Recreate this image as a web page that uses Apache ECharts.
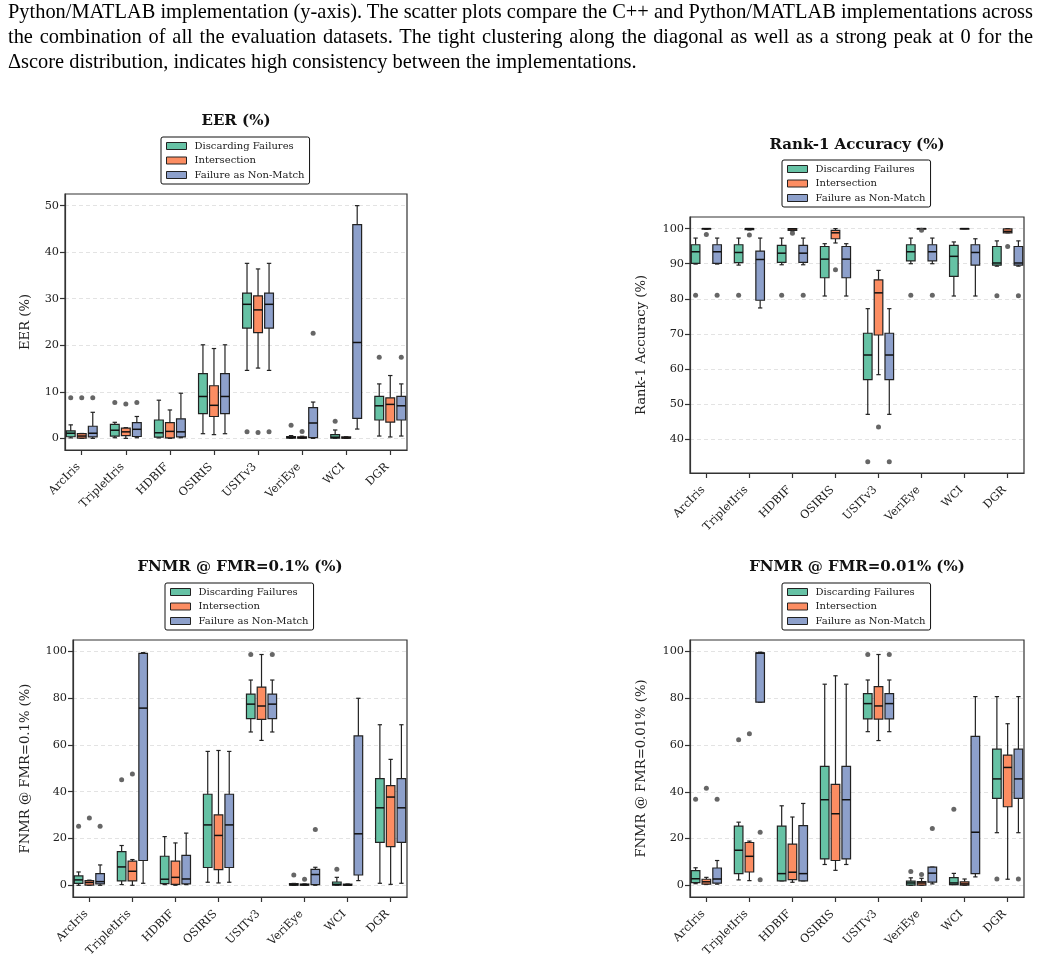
<!DOCTYPE html>
<html><head><meta charset="utf-8">
<script src="https://cdn.jsdelivr.net/npm/echarts@6/dist/echarts.min.js"></script>
<style>
html,body{margin:0;padding:0;background:#fff;}
#chart{position:absolute;left:0;top:0;width:1041px;height:963px;}
#caption{position:absolute;left:8px;top:-1px;width:1025px;font-family:'Liberation Serif','Times New Roman',serif;font-size:20.4px;line-height:25px;color:#000;z-index:2;}
#caption .j{text-align:justify;text-align-last:justify;white-space:nowrap;}
#caption .l{text-align:left;white-space:nowrap;}
</style></head>
<body>
<div id="chart"></div>
<div id="caption">
<div class="j">Python/MATLAB implementation (y-axis). The scatter plots compare the C++ and Python/MATLAB implementations across</div>
<div class="j">the combination of all the evaluation datasets. The tight clustering along the diagonal as well as a strong peak at 0 for the</div>
<div class="l">Δscore distribution, indicates high consistency between the implementations.</div>
</div>
<script>
// ---------------- DATA ----------------
const categories = ['ArcIris','TripletIris','HDBIF','OSIRIS','USITv3','VeriEye','WCI','DGR'];
const methods = ['Discarding Failures','Intersection','Failure as Non-Match'];

const eerTicks = [0,10,20,30,40,50];
const rankTicks = [40,50,60,70,80,90,100];
const fnmrTicks = [0,20,40,60,80,100];

// box stats per category: [lowerWhisker, q1, median, q3, upperWhisker]
const eerDiscard = [[0.1,0.35,1.1,1.6,2.9],[0.14,0.5,1.75,3.0,3.45],[0.1,0.25,1.2,3.95,8.2],[1.0,5.3,9.0,13.9,20.1],[14.6,23.7,28.8,31.2,37.6],[0.0,0.05,0.2,0.4,0.6],[0.0,0.05,0.25,0.8,1.8],[0.5,3.95,7.0,9.0,11.7]];
const eerInter   = [[0.0,0.05,0.5,1.0,1.05],[0.0,0.6,1.4,2.2,2.3],[0.0,0.1,1.5,3.4,6.1],[0.8,4.7,7.1,11.3,19.3],[15.1,22.7,27.6,30.6,36.4],[0.0,0.02,0.15,0.35,0.45],[0.0,0.02,0.1,0.3,0.35],[0.3,3.5,7.3,8.7,13.5]];
const eerFail    = [[0.0,0.3,1.1,2.6,5.6],[0.14,0.4,1.95,3.4,4.7],[0.14,0.3,1.4,4.2,9.7],[1.0,5.3,9.0,13.9,20.1],[14.6,23.7,28.8,31.2,37.6],[0.0,0.15,3.3,6.6,7.8],[2.0,4.3,20.6,45.9,50.0],[0.5,3.95,7.0,9.0,11.7]];
const eerOutDiscard = [[0,8.7],[1,7.7],[4,1.4],[5,2.8],[6,3.7],[7,17.4]];
const eerOutInter   = [[0,8.75],[1,7.4],[4,1.25],[5,1.5]];
const eerOutFail    = [[0,8.7],[1,7.7],[4,1.4],[5,22.6],[7,17.4]];

const rankDiscard = [[89.9,90.1,93.4,95.4,97.3],[89.6,90.3,93.2,95.4,97.3],[89.7,90.4,93.0,95.2,97.3],[80.8,86.0,91.3,94.9,95.7],[47.1,57.0,64.0,70.2,77.2],[90.0,90.8,93.4,95.4,97.3],[80.8,86.4,92.1,95.2,96.2],[89.3,89.6,90.2,94.9,96.5]];
const rankInter   = [[99.8,99.9,100,100,100],[99.6,99.7,100,100,100],[99.3,99.5,99.9,100,100],[95.9,97.1,98.8,99.5,100],[58.4,69.7,81.7,85.4,88.1],[99.8,99.9,100,100,100],[100,100,100,100,100],[98.8,98.8,99.2,99.9,100]];
const rankFail    = [[89.9,90.1,93.4,95.4,97.3],[77.4,79.6,91.2,93.6,97.3],[89.7,90.4,93.0,95.2,97.3],[80.8,86.0,91.3,94.9,95.7],[47.1,57.0,64.0,70.2,77.2],[90.0,90.8,93.4,95.4,97.3],[80.8,89.6,93.2,95.4,97.1],[89.3,89.6,90.2,94.9,96.5]];
const rankOutDiscard = [[0,81.0],[1,81.0],[2,81.0],[4,33.6],[5,81.0],[7,80.9]];
const rankOutInter   = [[0,98.3],[1,98.2],[2,98.7],[3,88.3],[4,43.5],[5,99.5],[7,94.9]];
const rankOutFail    = [[0,81.0],[2,81.0],[4,33.6],[5,81.0],[7,80.9]];

const f1Discard = [[0.0,0.8,2.3,4.0,5.7],[0.3,1.85,7.85,14.4,17.0],[0.3,0.7,2.6,12.4,20.8],[1.3,7.6,25.8,38.9,57.2],[65.5,71.2,77.4,81.7,87.7],[0.0,0.05,0.2,0.7,0.8],[0.0,0.05,0.4,1.4,3.4],[0.86,18.3,33.1,45.6,68.6]];
const f1Inter   = [[0.0,0.1,1.2,2.0,2.2],[0.0,1.85,6.0,10.3,11.0],[0.0,0.4,3.4,10.3,18.1],[1.0,6.7,21.3,30.1,57.6],[61.9,70.9,76.6,84.7,98.6],[0.0,0.05,0.2,0.55,0.6],[0.0,0.02,0.1,0.5,0.55],[0.4,16.5,37.7,42.6,53.8]];
const f1Fail    = [[0.0,0.57,1.57,5.0,8.7],[0.86,10.6,75.7,99.1,99.4],[0.3,0.6,2.7,12.8,22.3],[1.3,7.6,25.8,38.9,57.2],[65.5,71.2,77.4,81.7,87.7],[0.0,0.3,4.6,6.8,7.7],[2.0,4.4,22.0,63.8,79.9],[0.86,18.3,33.1,45.6,68.6]];
const f1OutDiscard = [[0,25.2],[1,45.1],[4,98.6],[5,4.4],[6,6.85]];
const f1OutInter   = [[0,28.7],[1,47.6],[5,2.6]];
const f1OutFail    = [[0,25.2],[4,98.6],[5,23.8]];

const f2Discard = [[0.7,1.14,2.8,6.3,7.5],[2.3,5.0,15.0,25.3,27.0],[1.9,1.9,5.0,25.3,34.0],[8.9,11.3,36.6,50.9,86.0],[65.7,71.2,77.7,82.0,87.8],[0.0,0.1,1.0,1.8,3.2],[0.3,0.3,1.0,3.3,5.1],[22.5,37.2,45.5,58.2,80.7]];
const f2Inter   = [[0.4,0.5,1.5,2.6,3.4],[2.0,5.7,12.4,18.3,18.9],[1.3,2.4,5.6,17.6,29.2],[6.4,10.6,30.6,43.2,89.6],[61.9,71.1,76.7,85.0,98.7],[0.0,0.1,1.0,1.6,3.0],[0.0,0.1,0.6,1.5,2.7],[2.6,33.6,50.4,55.7,69.1]];
const f2Fail    = [[0.5,0.9,2.7,7.4,10.6],[78.3,78.3,99.3,99.4,99.7],[1.9,1.9,5.0,25.5,35.0],[8.9,11.3,36.6,50.9,86.0],[65.7,71.2,77.7,82.0,87.8],[0.6,1.4,5.2,7.8,7.8],[3.6,5.0,22.7,63.7,80.7],[22.5,37.2,45.5,58.2,80.7]];
const f2OutDiscard = [[0,36.8],[1,62.2],[4,98.7],[5,5.9],[6,32.5],[7,2.7]];
const f2OutInter   = [[0,41.5],[1,64.8],[5,4.6]];
const f2OutFail    = [[0,36.8],[1,22.7],[1,2.4],[4,98.7],[5,24.3],[7,2.7]];

// ---------------- LAYOUT / STYLE ----------------
const colors = ['#66c2a5','#fc8d62','#8da0cb'];
const offsets = [-0.25, 0, 0.25];
const FONT = "'DejaVu Serif', serif";

const panels = [
  {title:'EER (%)', yName:'EER (%)', min:-2.5, max:52.5, split:5, ticks:eerTicks,
   stats:[eerDiscard,eerInter,eerFail], out:[eerOutDiscard,eerOutInter,eerOutFail],
   grid:{left:65,top:194,width:342,height:256}, legend:{left:161,top:137}, tpos:[236,121], nameGap:33},
  {title:'Rank-1 Accuracy (%)', yName:'Rank-1 Accuracy (%)', min:30.4, max:103.3, split:7, ticks:rankTicks,
   stats:[rankDiscard,rankInter,rankFail], out:[rankOutDiscard,rankOutInter,rankOutFail],
   grid:{left:690,top:217,width:334,height:256}, legend:{left:782,top:160}, tpos:[857,145], nameGap:42},
  {title:'FNMR @ FMR=0.1% (%)', yName:'FNMR @ FMR=0.1% (%)', min:-5, max:104.8, split:5, ticks:fnmrTicks,
   stats:[f1Discard,f1Inter,f1Fail], out:[f1OutDiscard,f1OutInter,f1OutFail],
   grid:{left:73,top:640,width:334,height:257}, legend:{left:165,top:583}, tpos:[240,567], nameGap:41},
  {title:'FNMR @ FMR=0.01% (%)', yName:'FNMR @ FMR=0.01% (%)', min:-5, max:104.9, split:5, ticks:fnmrTicks,
   stats:[f2Discard,f2Inter,f2Fail], out:[f2OutDiscard,f2OutInter,f2OutFail],
   grid:{left:690,top:640,width:334,height:257}, legend:{left:782,top:583}, tpos:[857,567], nameGap:42}
];

function renderBox(params, api) {
  const x = api.value(0);
  const lo = api.value(1), q1 = api.value(2), med = api.value(3), q3 = api.value(4), hi = api.value(5);
  const c = api.coord([x, med]);
  const hw = api.size([0.1, 0])[0];
  const cw = api.size([0.05, 0])[0];
  const yLo = api.coord([x, lo])[1], yQ1 = api.coord([x, q1])[1], yQ3 = api.coord([x, q3])[1], yHi = api.coord([x, hi])[1];
  const cx = c[0];
  const ls = {stroke:'#222', lineWidth:1.2};
  return {type:'group', children:[
    {type:'line', shape:{x1:cx,y1:yQ1,x2:cx,y2:yLo}, style:ls},
    {type:'line', shape:{x1:cx,y1:yQ3,x2:cx,y2:yHi}, style:ls},
    {type:'line', shape:{x1:cx-cw,y1:yLo,x2:cx+cw,y2:yLo}, style:ls},
    {type:'line', shape:{x1:cx-cw,y1:yHi,x2:cx+cw,y2:yHi}, style:ls},
    {type:'rect', shape:{x:cx-hw,y:yQ3,width:2*hw,height:Math.max(yQ1-yQ3,0.5)}, style:{fill:api.visual('color'), stroke:'#222', lineWidth:1.2}},
    {type:'line', shape:{x1:cx-hw,y1:c[1],x2:cx+hw,y2:c[1]}, style:{stroke:'#111', lineWidth:1.5}}
  ]};
}

const catIdx = categories.map((_, i) => i);
const option = {animation:false, backgroundColor:'#fff', title:[], legend:[], grid:[], xAxis:[], yAxis:[], series:[]};

panels.forEach((p, i) => {
  option.title.push({text:p.title, left:p.tpos[0], top:p.tpos[1], textAlign:'center', textVerticalAlign:'middle', padding:0,
    textStyle:{fontFamily:FONT, fontWeight:'bold', fontSize:15, color:'#111'}});
  option.legend.push({left:p.legend.left, top:p.legend.top, orient:'vertical', itemWidth:20, itemHeight:7, itemGap:2.5,
    padding:[3,5,3,5], borderColor:'#111', borderWidth:1, borderRadius:2, backgroundColor:'#fff', selectedMode:false,
    textStyle:{fontFamily:FONT, fontSize:10, color:'#222', lineHeight:12, padding:[0,0,0,3]},
    data:methods.map((m, k) => ({name:m, icon:'rect', itemStyle:{color:colors[k], borderColor:'#222', borderWidth:1}}))});
  option.grid.push(Object.assign({show:true, borderColor:'#333', borderWidth:1.2, backgroundColor:'transparent'}, p.grid));
  option.xAxis.push({type:'value', gridIndex:i, min:-0.38, max:7.38,
    axisLine:{show:true, onZero:false, lineStyle:{color:'#333', width:1.2}},
    axisTick:{show:true, customValues:catIdx, length:5, lineStyle:{color:'#333', width:1.2}},
    axisLabel:{show:true, customValues:catIdx, formatter:(v) => categories[Math.round(v)], rotate:45, margin:12,
      padding:[0,4.5,0,0], fontFamily:FONT, fontSize:11.3, color:'#222'},
    splitLine:{show:false}});
  option.yAxis.push({type:'value', gridIndex:i, min:p.min, max:p.max, splitNumber:p.split,
    name:p.yName, nameLocation:'middle', nameGap:p.nameGap, nameTextStyle:{fontFamily:FONT, fontSize:13.2, color:'#222'},
    axisLine:{show:true, onZero:false, lineStyle:{color:'#333', width:1.2}},
    axisTick:{show:true, customValues:p.ticks, length:5, lineStyle:{color:'#333', width:1.2}},
    axisLabel:{show:true, customValues:p.ticks, margin:6, fontFamily:FONT, fontSize:11.3, color:'#222'},
    splitLine:{show:true, lineStyle:{type:[4,3], color:'#dcdcdc', width:0.8}}});
  methods.forEach((m, k) => {
    option.series.push({type:'custom', name:m, xAxisIndex:i, yAxisIndex:i, renderItem:renderBox,
      itemStyle:{color:colors[k]}, encode:{x:0, y:[1,2,3,4,5]},
      data:p.stats[k].map((s, c) => [c + offsets[k]].concat(s))});
    option.series.push({type:'scatter', name:'outliers-' + i + '-' + k, xAxisIndex:i, yAxisIndex:i, symbolSize:5, z:5,
      itemStyle:{color:'#555', opacity:0.9}, silent:true,
      data:p.out[k].map(([c, v]) => [c + offsets[k], v])});
  });
});

const chart = echarts.init(document.getElementById('chart'), null, {renderer:'canvas'});
chart.setOption(option);
</script>
</body></html>
